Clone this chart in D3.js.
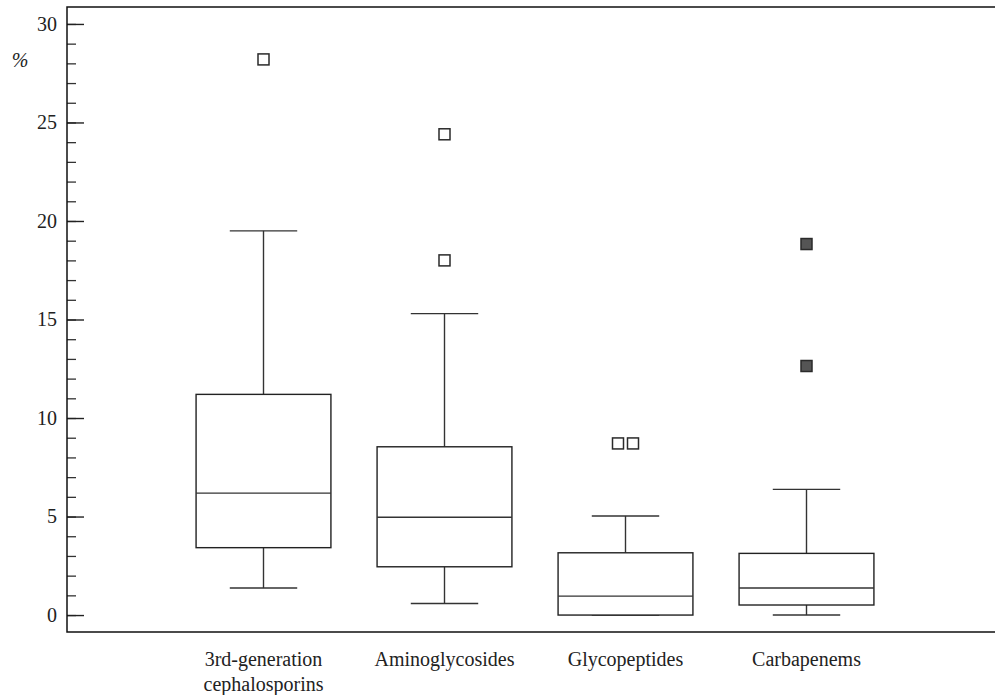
<!DOCTYPE html>
<html>
<head>
<meta charset="utf-8">
<script src="https://cdn.jsdelivr.net/npm/d3@7"></script>
<style>
  body { margin: 0; background: #fff; }
  svg { display: block; }
</style>
</head>
<body>
<div id="chart"></div>
<script>
const categories = ["3rd-generation\ncephalosporins", "Aminoglycosides", "Glycopeptides", "Carbapenems"];
const whiskerLow = [1.37, 0.59, 0.0, 0.0];
const q1 = [3.42, 2.45, 0.0, 0.51];
const median = [6.19, 4.96, 0.96, 1.37];
const q3 = [11.2, 8.54, 3.16, 3.13];
const whiskerHigh = [19.5, 15.3, 5.03, 6.38];
// outliers: [category index, value, offset among ties, far outlier?]
const outliers = [
    [0, 28.2, 0, false],
    [1, 24.4, 0, false],
    [1, 18.0, 0, false],
    [2, 8.71, -1, false],
    [2, 8.71, 1, false],
    [3, 18.83, 0, true],
    [3, 12.64, 0, true]
];
const majorTicks = [0, 5, 10, 15, 20, 25, 30];
const minorTicks = d3.range(0, 31);

const width = 995, height = 695;
const plot = { left: 67, right: 995, top: 7, bottom: 632 };
const serif = "'Liberation Serif', 'Times New Roman', serif";

const svg = d3.select("#chart")
    .append("svg")
    .attr("width", width)
    .attr("height", height);

const y = d3.scaleLinear()
    .domain([-0.86, 30.86])
    .range([plot.bottom, plot.top]);

const x = d3.scaleBand()
    .domain(categories)
    .range([173, 897])
    .padding(0);

const boxW = x.bandwidth() * 0.745;
const capW = boxW / 2;
const lineColor = "#333";

// minor ticks
svg.append("g")
    .attr("transform", `translate(${plot.left},0)`)
    .call(d3.axisLeft(y).tickValues(minorTicks).tickSize(-9).tickFormat(""))
    .call(g => g.select(".domain").remove())
    .call(g => g.selectAll("line").attr("stroke", "#333").attr("stroke-width", 1.3));

// major ticks
svg.append("g")
    .attr("transform", `translate(${plot.left},0)`)
    .call(d3.axisLeft(y).tickValues(majorTicks).tickSize(-17).tickPadding(10))
    .call(g => g.select(".domain").remove())
    .call(g => g.selectAll("line").attr("stroke", "#222").attr("stroke-width", 1.4))
    .call(g => g.selectAll("text")
        .style("font-family", serif)
        .style("font-size", "20px")
        .style("fill", "#222"));

// frame: left, top, bottom
svg.append("path")
    .attr("d", `M${plot.right},${plot.top}H${plot.left}V${plot.bottom}H${plot.right}`)
    .attr("fill", "none")
    .attr("stroke", "#111")
    .attr("stroke-width", 1.5);

svg.append("text")
    .attr("x", 20)
    .attr("y", 67)
    .attr("text-anchor", "middle")
    .style("font-family", serif)
    .style("font-size", "20px")
    .style("font-style", "italic")
    .style("fill", "#222")
    .text("%");

const boxes = svg.append("g")
    .selectAll("g")
    .data(categories)
    .join("g")
    .attr("transform", d => `translate(${x(d) + x.bandwidth() / 2},0)`);

boxes.each(function(d, i) {
    const g = d3.select(this);
    const stroke = l => l.attr("stroke", lineColor).attr("stroke-width", 1.4).attr("fill", "none");
    g.append("line").attr("x1", 0).attr("x2", 0)
        .attr("y1", y(q3[i])).attr("y2", y(whiskerHigh[i])).call(stroke);
    g.append("line").attr("x1", 0).attr("x2", 0)
        .attr("y1", y(q1[i])).attr("y2", y(whiskerLow[i])).call(stroke);
    g.append("line").attr("x1", -capW / 2).attr("x2", capW / 2)
        .attr("y1", y(whiskerHigh[i])).attr("y2", y(whiskerHigh[i])).call(stroke);
    g.append("line").attr("x1", -capW / 2).attr("x2", capW / 2)
        .attr("y1", y(whiskerLow[i])).attr("y2", y(whiskerLow[i])).call(stroke);
    g.append("rect")
        .attr("x", -boxW / 2)
        .attr("y", y(q3[i]))
        .attr("width", boxW)
        .attr("height", y(q1[i]) - y(q3[i]))
        .attr("fill", "#fff")
        .attr("stroke", "#222")
        .attr("stroke-width", 1.4);
    g.append("line").attr("x1", -boxW / 2).attr("x2", boxW / 2)
        .attr("y1", y(median[i])).attr("y2", y(median[i])).call(stroke);
});

const sq = 11;
svg.append("g")
    .selectAll("rect")
    .data(outliers)
    .join("rect")
    .attr("x", d => x(categories[d[0]]) + x.bandwidth() / 2 + d[2] * 7.5 - sq / 2)
    .attr("y", d => y(d[1]) - sq / 2)
    .attr("width", sq)
    .attr("height", sq)
    .attr("fill", d => d[3] ? "#555" : "#fff")
    .attr("stroke", "#2a2a2a")
    .attr("stroke-width", 1.5);

// category labels
svg.append("g")
    .selectAll("text")
    .data(categories)
    .join("text")
    .attr("x", d => x(d) + x.bandwidth() / 2)
    .attr("y", 666)
    .attr("text-anchor", "middle")
    .style("font-family", serif)
    .style("font-size", "20px")
    .style("fill", "#222")
    .each(function(d) {
        const lines = d.split("\n");
        d3.select(this).selectAll("tspan")
            .data(lines)
            .join("tspan")
            .attr("x", x(d) + x.bandwidth() / 2)
            .attr("dy", (l, k) => k === 0 ? 0 : 25)
            .text(l => l);
    });
</script>
</body>
</html>
